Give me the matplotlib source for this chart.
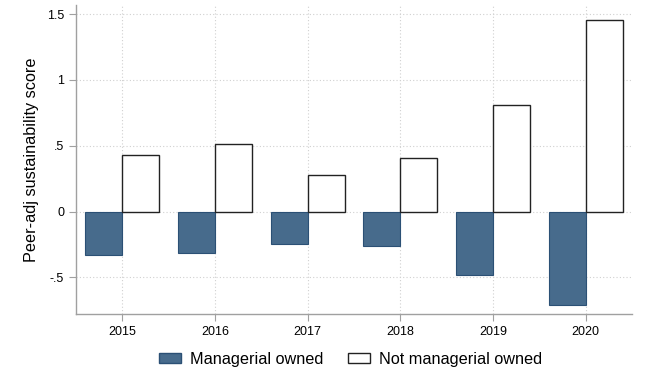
import numpy as np
import matplotlib.pyplot as plt
from matplotlib.patches import Patch

plt.rcParams['font.family'] = ['Liberation Sans', 'DejaVu Sans']

# Daten
years = [2015, 2016, 2017, 2018, 2019, 2020]
managerial = [-0.328, -0.312, -0.250, -0.265, -0.480, -0.713]
not_managerial = [0.431, 0.517, 0.276, 0.406, 0.811, 1.456]
yticks = [-0.5, 0, 0.5, 1, 1.5]
yticklabels = ['-.5', '0', '.5', '1', '1.5']

bar_blue = '#476b8c'
edge_blue = '#2b5075'
grid_col = '#d0d0d0'
axis_col = '#a0a0a0'

fig = plt.figure(figsize=(6.49, 3.8), dpi=100)
ax = fig.add_axes([0.117, 0.173, 0.857, 0.814])

x = np.array(years)
w = 0.4
ax.bar(x - w / 2, managerial, width=w, color=bar_blue, edgecolor=edge_blue,
       linewidth=0.8, zorder=3)
ax.bar(x + w / 2, not_managerial, width=w, color='white', edgecolor='#222222',
       linewidth=1.0, zorder=3)

ax.set_xlim(2014.5, 2020.5)
ax.set_ylim(-0.78, 1.57)
ax.set_xticks(years)
ax.set_xticklabels([str(y) for y in years], fontsize=9)
ax.set_yticks(yticks)
ax.set_yticklabels(yticklabels, fontsize=9)
ax.set_ylabel('Peer-adj sustainability score', fontsize=11.7, labelpad=6)

ax.grid(True, color=grid_col, linestyle=(0, (1, 2)), linewidth=0.8, zorder=0)
for s in ['top', 'right']:
    ax.spines[s].set_visible(False)
for s in ['left', 'bottom']:
    ax.spines[s].set_color(axis_col)
    ax.spines[s].set_linewidth(1.0)
ax.tick_params(colors=axis_col, labelcolor='black', length=5, width=0.8)

handles = [Patch(facecolor=bar_blue, edgecolor=edge_blue, label='Managerial owned'),
           Patch(facecolor='white', edgecolor='#222222', label='Not managerial owned')]
fig.legend(handles=handles, loc='center', bbox_to_anchor=(0.540, 0.055), ncol=2,
           frameon=False, fontsize=11.7, handlelength=1.35, handleheight=0.55,
           columnspacing=1.5, handletextpad=0.55)

fig.savefig('out.png', dpi=100, facecolor='white')
